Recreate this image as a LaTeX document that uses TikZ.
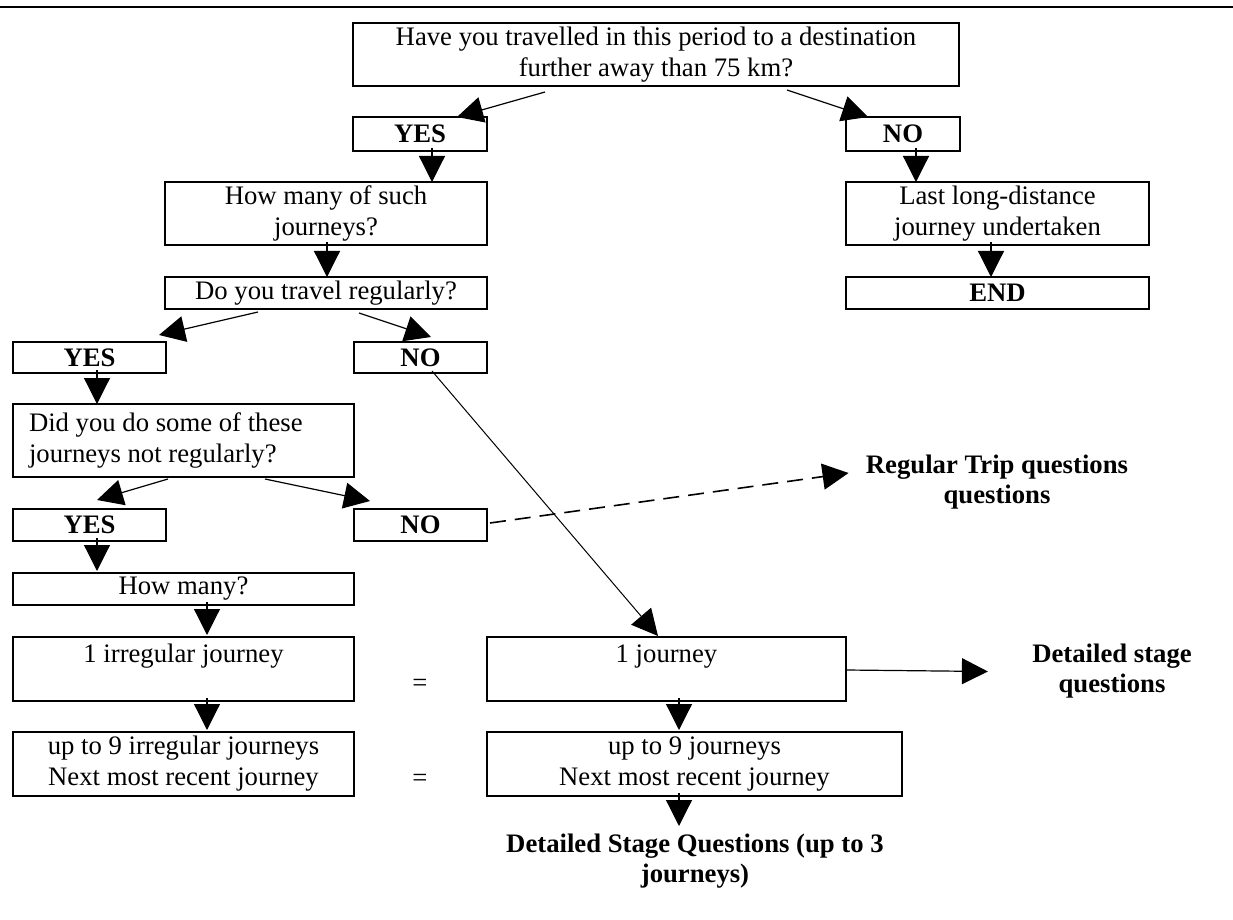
\documentclass[tikz,border=0pt]{standalone}
\usepackage{fontspec}
\setmainfont{Liberation Serif}
\usetikzlibrary{arrows.meta,calc}

\begin{document}
\begin{tikzpicture}[x=0.5pt,y=-0.5pt,>={Triangle[length=13pt,width=13pt]},
 font=\fontsize{13.35}{15.5}\selectfont,
 box/.style={draw,line width=0.85pt,inner sep=0pt,outer sep=0pt,align=center},
 answer/.style={box,font=\fontsize{13.35}{15.5}\selectfont\bfseries},
 toptext/.style={box,text height=12.5pt,text depth=19.5pt},
 result/.style={align=center,inner sep=0pt,font=\fontsize{13.35}{15}\selectfont\bfseries},
 link/.style={->,line width=0.6pt}]
\useasboundingbox (0,0) rectangle (1233,920);
\draw[line width=1pt] (0,7) -- (1233,7);
% first question and its two answers
\node[box,minimum width=303pt,minimum height=31.5pt] (travel) at (656,54.5) {Have you travelled in this period to a destination\\further away than 75 km?};
\node[answer,minimum width=67pt,minimum height=17pt] (yesa) at (420,134) {YES};
\node[answer,minimum width=57pt,minimum height=17pt] (noa) at (903,134) {NO};
\node[box,minimum width=151.5pt,minimum height=31.5pt] (last) at (997.5,213.5) {Last long-distance\\journey undertaken};
\node[answer,minimum width=151.5pt,minimum height=16pt] (finish) at (997.5,293) {END};
\node[box,minimum width=161pt,minimum height=31.5pt] (howmany) at (326,213.5) {How many of such\\journeys?};
\node[box,minimum width=161pt,minimum height=16pt] (regular) at (326,293) {Do you travel regularly?};
\node[answer,minimum width=76.5pt,minimum height=15.5pt] (yesb) at (89.5,357.5) {YES};
\node[answer,minimum width=66.5pt,minimum height=15.5pt] (nob) at (420.5,357.5) {NO};
\node[box,align=flush left,minimum width=170.5pt,minimum height=36.5pt,text width=154.5pt] (notreg) at (183.5,440.5) {Did you do some of these\\journeys not regularly?};
\node[answer,minimum width=76.5pt,minimum height=16pt] (yesc) at (89.5,525) {YES};
\node[answer,minimum width=66.5pt,minimum height=16pt] (noc) at (420.5,525) {NO};
\node[box,minimum width=170.5pt,minimum height=16pt] (howmanyb) at (183.5,589) {How many?};
% journey counts
\node[toptext,minimum width=170.5pt] (onei) at (183.5,669) {1 irregular journey};
\node[box,minimum width=170.5pt,minimum height=32pt] (ninei) at (183.5,764) {up to 9 irregular journeys\\Next most recent journey};
\node[toptext,minimum width=179.5pt] (onej) at (666.5,669) {1 journey};
\node[box,minimum width=207.5pt,minimum height=32pt] (ninej) at (694.5,764) {up to 9 journeys\\Next most recent journey};
\node (eqa) at (420,685) {=};
\node (eqb) at (420,780) {=};
\node[result,anchor=north] (regtrip) at (997,455) {Regular Trip questions\\questions};
\node[result,anchor=north] (detail) at (1112,644) {Detailed stage\\questions};
\node[result,anchor=north] (stageq) at (695,834) {Detailed Stage Questions (up to 3\\journeys)};
% connectors
\draw[link] ($(travel.south)+(-111,6)$) -- ($(yesa.north)+(37,0)$);
\draw[link] ($(travel.south)+(131,4)$) -- ($(noa.north)+(-35,0)$);
\draw[link] ($(yesa.south)+(12,-3)$) -- ($(howmany.north)+(106,0)$);
\draw[link] ($(noa.south)+(13,-3)$) -- ($(last.north)+(-81.5,0)$);
\draw[link] ($(last.south)+(-6.5,-3)$) -- ($(finish.north)+(-6.5,0)$);
\draw[link] ($(howmany.south)+(1,-3)$) -- ($(regular.north)+(1,0)$);
\draw[link] ($(regular.south)+(-68,3)$) -- ($(yesb.north)+(69.5,-7)$);
\draw[link] ($(regular.south)+(33,4)$) -- ($(nob.north)+(10.5,-5)$);
\draw[link,line width=0.5pt] ($(nob.south)+(11.5,-2)$) -- ($(onej.north)+(-8.5,-1)$);
\draw[link] ($(yesb.south)+(7.5,-3)$) -- ($(notreg.north)+(-86.5,0)$);
\draw[link] ($(notreg.south)+(-15.5,2)$) -- ($(yesc.north)+(7.5,-9)$);
\draw[link] ($(notreg.south)+(81.5,2)$) -- ($(noc.north)+(-50.5,-8)$);
\draw[link] ($(yesc.south)+(7.5,-3)$) -- ($(howmanyb.north)+(-86.5,-2)$);
\draw[link,dashed,dash pattern=on 8pt off 4.5pt,line width=0.8pt] ($(noc.east)+(3,-2)$) -- ($(regtrip.north west)+(-17,18)$);
\draw[link] ($(howmanyb.south)+(23.5,-3)$) -- ($(onei.north)+(23.5,-2)$);
\draw[link] ($(onei.south)+(23.5,-3)$) -- ($(ninei.north)+(23.5,-2)$);
\draw[link] ($(onej.east)+(0,1)$) -- ($(detail.west)+(-44,0)$);
\draw[link] ($(onej.south)+(12.5,-3)$) -- ($(ninej.north)+(-15.5,-2)$);
\draw[link] ($(ninej.south)+(-15.5,-3)$) -- ($(stageq.north)+(-16,-8)$);
\end{tikzpicture}
\end{document}
